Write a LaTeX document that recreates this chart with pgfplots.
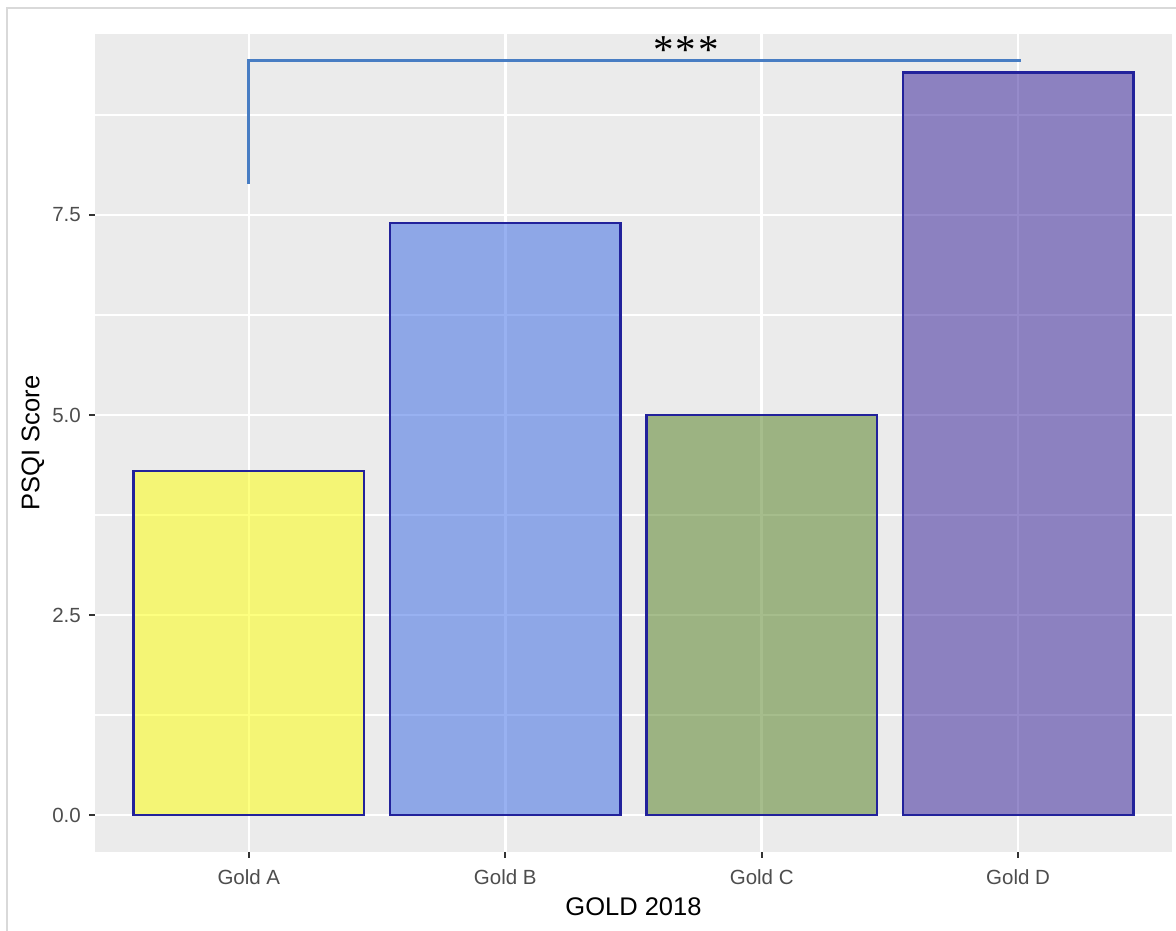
\documentclass[border=0pt]{standalone}
\usepackage{pgfplots}
\pgfplotsset{compat=1.18}
\usepackage{fontspec}
\setmainfont{Liberation Sans}
\newfontfamily\serifast{Liberation Serif}
\definecolor{ggbg}{RGB}{235,235,235}
\definecolor{ggtick}{RGB}{51,51,51}
\definecolor{ggtext}{RGB}{77,77,77}
\definecolor{frame}{RGB}{217,217,217}
\definecolor{cA}{RGB}{253,255,1}
\definecolor{cB}{RGB}{51,101,229}
\definecolor{cC}{RGB}{79,125,27}
\definecolor{cD}{RGB}{47,25,151}
\definecolor{border}{RGB}{34,34,155}
\definecolor{bracket}{RGB}{72,125,195}
\begin{document}
\begin{tikzpicture}[x=1pt,y=1pt]
\useasboundingbox (0,0) rectangle (1176,931);
\draw[frame, line width=2pt] (7,0) -- (7,923) -- (1176,923);
\begin{axis}[
  at={(95pt,79pt)}, anchor=south west,
  scale only axis, width=1077pt, height=818pt,
  xmin=0.4, xmax=4.6, ymin=-0.4625, ymax=9.7625,
  axis background/.style={fill=ggbg},
  axis line style={draw=none},
  xtick={1,2,3,4},
  xticklabels={Gold A,Gold B,Gold C,Gold D},
  ytick={0,2.5,5,7.5},
  yticklabels={0.0,2.5,5.0,7.5},
  minor ytick={1.25,3.75,6.25,8.75},
  grid=both,
  major grid style={white, line width=2.5pt},
  minor grid style={white, line width=1.3pt},
  tick pos=left, tick align=outside,
  major tick length=6pt, minor tick length=0pt,
  tick style={ggtick, line width=2pt},
  yticklabel style={anchor=east, inner sep=0pt, xshift=-8pt, font=\fontsize{20.5}{24}\selectfont, text=ggtext},
  xticklabel style={anchor=north, inner sep=0pt, yshift=-11pt, font=\fontsize{20.5}{24}\selectfont, text=ggtext},
  xlabel={GOLD 2018}, ylabel={PSQI Score},
  every axis x label/.style={at={(axis description cs:0.5,-0.0672)}, anchor=center, font=\fontsize{25.5}{30}\selectfont},
  every axis y label/.style={at={(axis description cs:-0.0576,0.5)}, rotate=90, anchor=center, font=\fontsize{25.5}{30}\selectfont},
  clip=false,
]
\addplot[ybar, bar width=0.9, bar shift=0pt, fill=cA, fill opacity=0.5, draw=border, draw opacity=1, line width=2.4pt] coordinates {(1,4.3)};
\addplot[ybar, bar width=0.9, bar shift=0pt, fill=cB, fill opacity=0.5, draw=border, draw opacity=1, line width=2.4pt] coordinates {(2,7.4)};
\addplot[ybar, bar width=0.9, bar shift=0pt, fill=cC, fill opacity=0.5, draw=border, draw opacity=1, line width=2.4pt] coordinates {(3,5.0)};
\addplot[ybar, bar width=0.9, bar shift=0pt, fill=cD, fill opacity=0.5, draw=border, draw opacity=1, line width=2.4pt] coordinates {(4,9.28)};
\addplot[bracket, line width=3pt, line join=miter] coordinates {(1,7.89) (1,9.425) (4.012,9.425)};
\node[font=\serifast\fontsize{41}{45}\selectfont, inner sep=0pt] at (axis cs:2.704,9.56) {*\kern2pt*\kern2pt*};
\end{axis}
\end{tikzpicture}
\end{document}
